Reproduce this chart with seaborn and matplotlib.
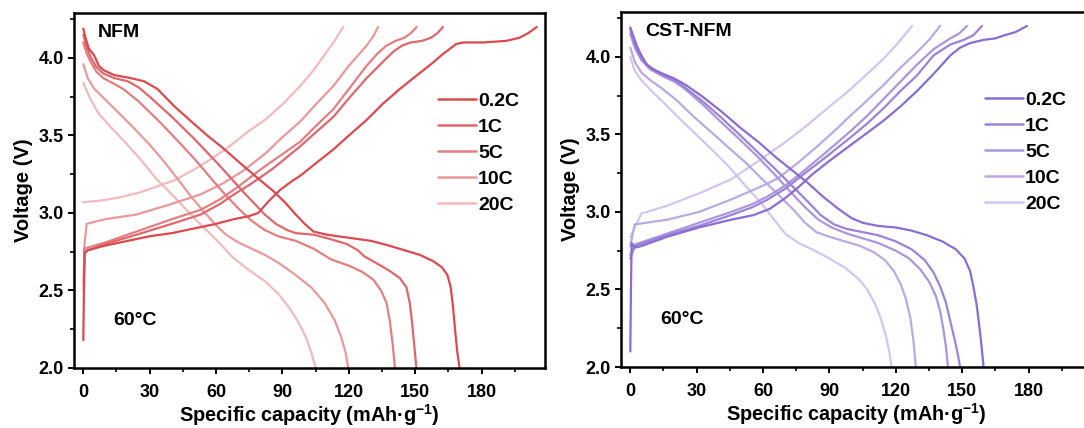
import matplotlib
matplotlib.use("Agg")
import matplotlib.pyplot as plt
from matplotlib.lines import Line2D
from matplotlib.ticker import MultipleLocator
import seaborn as sns

sns.set_style("ticks")
plt.rcParams['font.family'] = ['Liberation Sans', 'DejaVu Sans']
plt.rcParams['font.weight'] = 'bold'
plt.rcParams['mathtext.fontset'] = 'custom'
plt.rcParams['mathtext.rm'] = 'Liberation Sans:bold'
plt.rcParams['mathtext.bf'] = 'Liberation Sans:bold'
for key in ['text.color', 'axes.labelcolor', 'xtick.color', 'ytick.color', 'axes.edgecolor']:
    plt.rcParams[key] = 'black'

rates = ['0.2C', '1C', '5C', '10C', '20C']
red_colors = ['#DC4A4F', '#E0676B', '#E57E81', '#EB989A', '#F2BABC']
purple_colors = ['#8B6CD4', '#9C82DB', '#AB95E0', '#BBA9E6', '#D2C6F0']

# ---- NFM, discharge (capacity, voltage) ----
nfm_dis_02 = [(0, 4.19), (1, 4.13), (2.5, 4.06), (4.8, 4.02), (7, 3.95), (9.3, 3.92), (13.9, 3.89),
              (21.4, 3.87), (27.4, 3.85), (33.5, 3.80), (41, 3.69), (48, 3.60), (56, 3.50), (63, 3.42),
              (71, 3.32), (80, 3.21), (86, 3.14), (91, 3.07), (96, 2.99), (100, 2.93), (104, 2.88),
              (110, 2.86), (120, 2.84), (130, 2.82), (138, 2.79), (145, 2.76), (152, 2.73), (158, 2.69),
              (162, 2.65), (164.5, 2.60), (166, 2.52), (167, 2.40), (168, 2.24), (169, 2.10), (170, 2.0)]
nfm_dis_1 = [(0, 4.15), (1.5, 4.07), (3.5, 4.00), (6, 3.94), (9, 3.90), (14, 3.87), (20, 3.85), (25, 3.81),
             (30, 3.75), (40, 3.62), (50, 3.48), (60, 3.33), (67, 3.22), (72, 3.14), (76, 3.08), (82, 2.99),
             (87, 2.93), (92, 2.89), (96, 2.87), (104, 2.86), (112, 2.83), (119, 2.80), (124, 2.76),
             (127, 2.72), (132, 2.68), (138, 2.63), (143, 2.58), (146, 2.52), (147.5, 2.42), (148.5, 2.30),
             (149.5, 2.15), (150.5, 2.0)]
nfm_dis_5 = [(0, 4.10), (1.5, 4.03), (3.5, 3.97), (6, 3.91), (9, 3.87), (13, 3.84), (18, 3.80), (25, 3.72),
             (35, 3.58), (45, 3.43), (52, 3.32), (58.5, 3.21), (64, 3.12), (70, 3.03), (76, 2.95),
             (82, 2.89), (88, 2.85), (96, 2.82), (104, 2.77), (112, 2.70), (120, 2.66), (126, 2.62),
             (131, 2.57), (134.5, 2.50), (137, 2.42), (138.5, 2.30), (139.8, 2.15), (140.8, 2.0)]
nfm_dis_10 = [(0, 3.96), (2, 3.87), (5, 3.80), (10, 3.73), (15, 3.66), (22, 3.56), (30, 3.44), (36, 3.34),
              (42.6, 3.22), (49, 3.10), (55, 3.00), (60, 2.92), (64.5, 2.86), (70, 2.81), (76, 2.77),
              (82, 2.73), (88, 2.68), (95, 2.61), (103, 2.52), (109, 2.42), (113.5, 2.31), (116.5, 2.20),
              (118.5, 2.10), (119.7, 2.0)]
nfm_dis_20 = [(0, 3.84), (3, 3.74), (7, 3.64), (12, 3.56), (18, 3.47), (25, 3.36), (33, 3.22), (40, 3.12),
              (46, 3.03), (52, 2.94), (57, 2.87), (62, 2.80), (67, 2.72), (74, 2.64), (82, 2.56), (88, 2.48),
              (93, 2.39), (97, 2.30), (100.5, 2.20), (103, 2.10), (105, 2.0)]

# ---- NFM, charge ----
nfm_chg_02 = [(0, 2.18), (0.3, 2.50), (0.6, 2.74), (2, 2.76), (10, 2.79), (20, 2.82), (30, 2.85), (40, 2.87),
              (50, 2.90), (60, 2.93), (68, 2.96), (75, 2.98), (79, 3.00), (84, 3.08), (89, 3.15),
              (94.7, 3.21), (98, 3.24), (105, 3.32), (113, 3.41), (120, 3.50), (128, 3.60), (135, 3.70),
              (143, 3.80), (150, 3.88), (158, 3.97), (162, 4.02), (165.7, 4.06), (168.5, 4.09),
              (171.7, 4.10), (180.7, 4.10), (191, 4.11), (197, 4.13), (201, 4.16), (204.9, 4.20)]
nfm_chg_1 = [(0.2, 2.55), (0.5, 2.75), (10, 2.80), (24, 2.86), (40, 2.93), (53, 2.99), (62, 3.06),
             (67, 3.11), (76, 3.19), (86, 3.29), (98, 3.43), (105, 3.52), (113, 3.62), (120, 3.74),
             (128, 3.87), (135, 3.97), (140, 4.04), (144, 4.08), (148, 4.10), (153, 4.11), (157, 4.13),
             (160, 4.16), (162.5, 4.20)]
nfm_chg_5 = [(0.2, 2.50), (0.5, 2.77), (10, 2.81), (24, 2.88), (40, 2.96), (53, 3.02), (62, 3.09),
             (70, 3.17), (80, 3.28), (90, 3.38), (98, 3.46), (105, 3.56), (113, 3.67), (120, 3.80),
             (128, 3.95), (133, 4.03), (137, 4.08), (141, 4.11), (145, 4.13), (148, 4.16), (150.6, 4.20)]
nfm_chg_10 = [(0.3, 2.76), (1.5, 2.93), (10, 2.96), (24, 2.99), (38, 3.05), (53, 3.12), (63, 3.19),
              (72, 3.27), (82, 3.38), (90, 3.49), (98, 3.59), (105, 3.70), (113, 3.82), (120, 3.95),
              (128, 4.08), (131, 4.14), (133.2, 4.20)]
nfm_chg_20 = [(0, 3.07), (8, 3.08), (16, 3.10), (25, 3.13), (33, 3.17), (41, 3.21), (50, 3.28), (58, 3.35),
              (66, 3.43), (74, 3.52), (82, 3.60), (90, 3.70), (98, 3.82), (104, 3.92), (109, 4.02),
              (113.5, 4.11), (117.4, 4.20)]

# ---- CST-NFM, discharge ----
cst_dis_02 = [(0, 4.19), (1.5, 4.13), (3, 4.07), (5, 4.01), (7.5, 3.95), (10.5, 3.92), (15, 3.89), (20, 3.86),
              (25, 3.82), (33, 3.74), (41, 3.65), (50, 3.54), (58, 3.45), (66, 3.35), (73, 3.27), (80, 3.19),
              (87, 3.10), (94, 3.02), (100, 2.96), (105, 2.93), (112, 2.91), (120, 2.90), (127, 2.88),
              (134, 2.85), (141, 2.81), (147, 2.76), (151, 2.70), (153.5, 2.62), (155, 2.52), (156.5, 2.40),
              (157.8, 2.25), (158.8, 2.12), (159.6, 2.0)]
cst_dis_1 = [(0, 4.18), (2, 4.08), (5, 3.99), (9, 3.93), (14, 3.89), (20, 3.85), (25, 3.80), (33, 3.71),
             (41, 3.61), (50, 3.49), (58, 3.38), (66, 3.27), (73, 3.17), (80, 3.07), (86, 2.98), (92, 2.92),
             (98, 2.89), (105, 2.87), (112, 2.85), (120, 2.81), (127, 2.76), (133, 2.69), (137, 2.61),
             (140, 2.52), (142.5, 2.42), (144.5, 2.30), (146.5, 2.18), (148, 2.08), (149, 2.0)]
cst_dis_5 = [(0, 4.15), (2, 4.06), (5, 3.98), (9, 3.92), (14, 3.88), (20, 3.84), (25, 3.79), (33, 3.69),
             (41, 3.58), (50, 3.46), (58, 3.35), (66, 3.23), (73, 3.12), (79, 3.03), (85, 2.95), (91, 2.90),
             (98, 2.86), (105, 2.83), (112, 2.80), (120, 2.75), (126, 2.70), (131, 2.63), (135, 2.55),
             (138, 2.46), (140, 2.36), (141.5, 2.24), (142.7, 2.12), (143.5, 2.0)]
cst_dis_10 = [(0, 4.06), (2, 3.97), (5, 3.90), (9, 3.85), (14, 3.80), (21, 3.72), (29, 3.61), (37, 3.51),
              (44, 3.42), (52, 3.32), (59, 3.22), (67, 3.11), (74, 3.01), (79, 2.93), (84, 2.87), (90, 2.84),
              (97, 2.81), (104, 2.78), (110, 2.74), (115, 2.69), (119, 2.62), (122, 2.54), (124.5, 2.44),
              (126.5, 2.32), (128, 2.16), (129, 2.0)]
cst_dis_20 = [(0, 4.00), (2, 3.91), (5, 3.85), (9, 3.79), (14, 3.72), (21, 3.62), (29, 3.51), (37, 3.40),
              (44, 3.30), (52, 3.17), (59, 3.06), (65, 2.95), (70, 2.86), (76, 2.80), (82, 2.76), (90, 2.70),
              (97, 2.64), (103, 2.57), (107, 2.50), (110.5, 2.41), (113, 2.32), (115.5, 2.20), (117, 2.10),
              (118, 2.0)]

# ---- CST-NFM, charge ----
cst_chg_02 = [(0, 2.10), (0.3, 2.50), (0.6, 2.80), (2, 2.77), (5, 2.78), (16.6, 2.84), (31, 2.90),
              (45.5, 2.95), (55.7, 2.98), (63, 3.02), (70, 3.09), (76, 3.16), (82, 3.24), (90, 3.33),
              (99.4, 3.43), (107, 3.51), (114.5, 3.59), (122, 3.68), (129.5, 3.78), (137, 3.89),
              (144.6, 4.01), (149, 4.06), (153.6, 4.09), (159.6, 4.11), (165, 4.12), (169, 4.14),
              (174, 4.16), (179.2, 4.20)]
cst_chg_1 = [(0, 2.70), (2, 2.78), (16.6, 2.85), (31, 2.91), (45.5, 2.98), (55, 3.03), (62, 3.08), (70, 3.15),
             (78, 3.24), (88, 3.35), (99.4, 3.48), (107, 3.57), (114.5, 3.67), (122, 3.78), (129.5, 3.88),
             (137, 4.01), (144.6, 4.08), (150.6, 4.11), (155, 4.14), (158.9, 4.20)]
cst_chg_5 = [(0, 2.72), (2, 2.79), (16.6, 2.86), (31, 2.93), (45.5, 3.00), (55, 3.05), (62, 3.10), (70, 3.17),
             (78, 3.26), (88, 3.38), (99.4, 3.52), (107, 3.62), (114.5, 3.73), (122, 3.84), (129.5, 3.95),
             (137, 4.05), (144.6, 4.12), (148.5, 4.15), (152.1, 4.20)]
cst_chg_10 = [(0, 2.78), (2, 2.92), (16.6, 2.95), (31, 3.00), (45.5, 3.08), (60, 3.17), (67, 3.22), (76, 3.32),
              (85, 3.43), (92, 3.52), (99.4, 3.62), (107, 3.72), (114.5, 3.82), (122, 3.93), (129.5, 4.03),
              (135, 4.11), (140, 4.20)]
cst_chg_20 = [(0, 2.84), (5, 2.99), (16.6, 3.04), (31, 3.12), (45.5, 3.21), (58, 3.33), (70, 3.45), (80, 3.56),
              (90, 3.68), (99.4, 3.79), (107, 3.89), (114.5, 3.99), (121, 4.09), (127.3, 4.20)]

nfm_curves = [(nfm_dis_02, nfm_chg_02), (nfm_dis_1, nfm_chg_1), (nfm_dis_5, nfm_chg_5),
              (nfm_dis_10, nfm_chg_10), (nfm_dis_20, nfm_chg_20)]
cst_curves = [(cst_dis_02, cst_chg_02), (cst_dis_1, cst_chg_1), (cst_dis_5, cst_chg_5),
              (cst_dis_10, cst_chg_10), (cst_dis_20, cst_chg_20)]

fig = plt.figure(figsize=(10.84, 4.28), dpi=100)
ax1 = fig.add_axes([74 / 1084, 60 / 428, 471 / 1084, 355 / 428])
ax2 = fig.add_axes([621 / 1084, 61 / 428, 471 / 1084, 355 / 428])


def draw_panel(ax, curves, colors, name):
    # lightest first so 0.2C sits on top
    for i in reversed(range(len(rates))):
        for branch in curves[i]:
            xs = [p[0] for p in branch]
            ys = [p[1] for p in branch]
            sns.lineplot(x=xs, y=ys, ax=ax, sort=False, color=colors[i], lw=1.6)

    ax.set_xlim(-4.2, 208.6)
    ax.set_ylim(2.0, 4.29)
    ax.xaxis.set_major_locator(MultipleLocator(30))
    ax.xaxis.set_minor_locator(MultipleLocator(15))
    ax.yaxis.set_major_locator(MultipleLocator(0.5))
    ax.yaxis.set_minor_locator(MultipleLocator(0.25))
    ax.yaxis.set_major_formatter(matplotlib.ticker.FormatStrFormatter('%.1f'))
    ax.tick_params(which='major', direction='out', length=4.5, width=1.4, labelsize=13)
    ax.tick_params(which='minor', direction='out', length=3, width=1.2)
    ax.tick_params(axis='x', pad=7)
    ax.tick_params(axis='y', pad=3)
    for s in ax.spines.values():
        s.set_linewidth(1.8)
        s.set_visible(True)

    ax.set_xlabel(r'Specific capacity (mAh·g$^{\mathbf{-1}}$)', fontsize=14.3, fontweight='bold', labelpad=1)
    ax.set_ylabel('Voltage (V)', fontsize=14.5, fontweight='bold', labelpad=4)
    for lab in ax.get_xticklabels() + ax.get_yticklabels():
        lab.set_fontweight('bold')

    ax.text(0.051, 0.968, name, transform=ax.transAxes, ha='left', va='top', fontsize=14, fontweight='bold')
    ax.text(0.083, 0.135, '60°C', transform=ax.transAxes, ha='left', va='center', fontsize=14, fontweight='bold')

    handles = [Line2D([], [], color=c, lw=1.8) for c in colors]
    ax.legend(handles, rates, loc='upper left', bbox_to_anchor=(0.752, 0.805), frameon=False,
              handlelength=1.95, handletextpad=0.12, labelspacing=0.44, borderpad=0,
              prop={'weight': 'bold', 'size': 14})


draw_panel(ax1, nfm_curves, red_colors, 'NFM')
draw_panel(ax2, cst_curves, purple_colors, 'CST-NFM')

fig.savefig('out.png', dpi=100)
